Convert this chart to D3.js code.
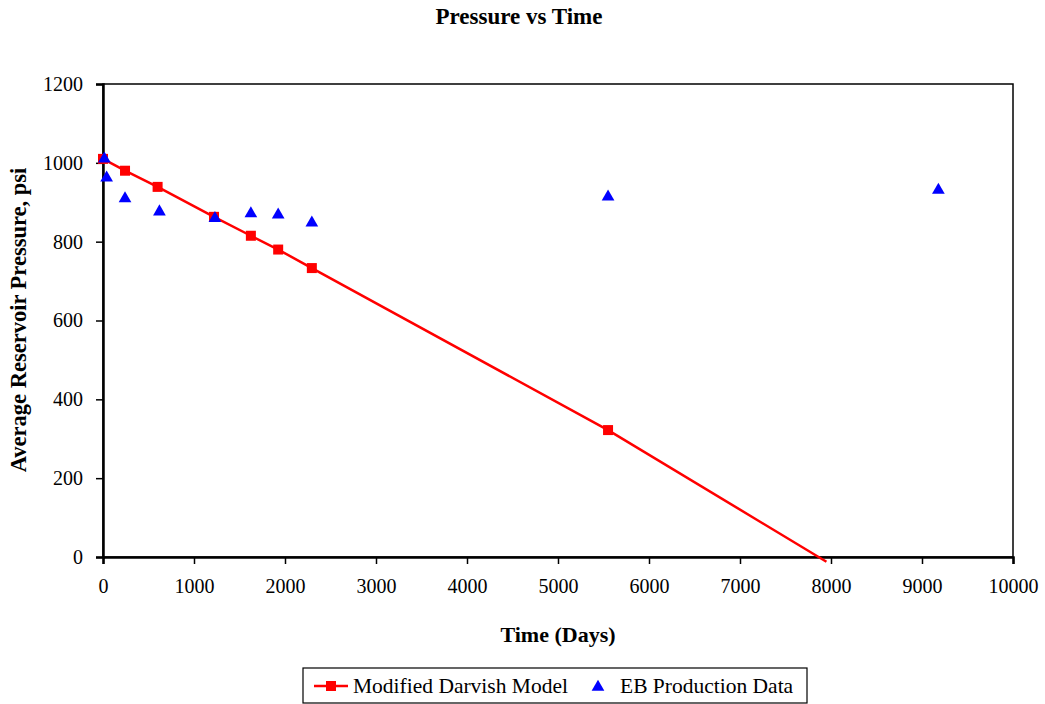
<!DOCTYPE html>
<html>
<head>
<meta charset="utf-8">
<script src="https://cdn.jsdelivr.net/npm/d3@7"></script>
<style>
  html, body { margin: 0; padding: 0; background: #fff; }
  svg { display: block; }
</style>
</head>
<body>
<svg id="chart" width="1045" height="704"></svg>
<script>
// Modified Darvish model: time (days) and average reservoir pressure (psi)
const modelDays     = [0, 242, 600, 1220, 1625, 1925, 2295, 5550, 7950];
const modelPressure = [1010, 980, 939, 863, 815, 780, 733, 322, -12];
// the last model point is the end of the line only, drawn without a marker
const modelMarkerCount = 8;

// EB production data
const ebDays     = [15, 40, 242, 620, 1230, 1625, 1925, 2295, 5550, 9180];
const ebPressure = [1010, 962, 909, 876, 859, 871, 868, 848, 914, 931];

const xTicks = [0, 1000, 2000, 3000, 4000, 5000, 6000, 7000, 8000, 9000, 10000];
const yTicks = [0, 200, 400, 600, 800, 1000, 1200];

const titleText = "Pressure vs Time";
const xTitle = "Time (Days)";
const yTitle = "Average Reservoir Pressure, psi";
const seriesNames = ["Modified Darvish Model", "EB Production Data"];

const FONT = "'Liberation Serif', 'Times New Roman', 'DejaVu Serif', serif";

const svg = d3.select("#chart");
const plot = { left: 103, right: 1013, top: 84, bottom: 557 };

const x = d3.scaleLinear().domain([0, 10000]).range([plot.left, plot.right]);
const y = d3.scaleLinear().domain([0, 1200]).range([plot.bottom, plot.top]);

function label(sel, size, bold) {
  return sel.attr("font-family", FONT).style("font-family", FONT)
    .style("font-size", size + "px")
    .style("font-weight", bold ? "bold" : "normal")
    .attr("fill", "#000");
}

// title
label(svg.append("text")
  .attr("x", 519).attr("y", 24)
  .attr("text-anchor", "middle"), 23, true)
  .text(titleText);

// plot frame
svg.append("rect")
  .attr("x", plot.left).attr("y", plot.top)
  .attr("width", plot.right - plot.left).attr("height", plot.bottom - plot.top)
  .attr("fill", "none").attr("stroke", "#000").attr("stroke-width", 1.5);

// axes
const xAxis = d3.axisBottom(x).tickValues(xTicks).tickSize(7).tickPadding(15).tickFormat(d3.format("d"));
const yAxis = d3.axisLeft(y).tickValues(yTicks).tickSize(7).tickPadding(13).tickFormat(d3.format("d"));

const gx = svg.append("g").attr("transform", `translate(0,${plot.bottom})`).call(xAxis);
const gy = svg.append("g").attr("transform", `translate(${plot.left},0)`).call(yAxis);
[gx, gy].forEach(g => {
  g.attr("font-family", FONT);
  g.select(".domain").attr("stroke", "#000").attr("stroke-width", 2.5);
  g.selectAll(".tick line").attr("stroke", "#000").attr("stroke-width", 1.5);
  label(g.selectAll(".tick text"), 20, false);
});

// axis titles
label(svg.append("text")
  .attr("x", 558).attr("y", 642)
  .attr("text-anchor", "middle"), 22, true)
  .text(xTitle);

label(svg.append("text")
  .attr("transform", `translate(26,320) rotate(-90)`)
  .attr("text-anchor", "middle"), 22.5, true)
  .text(yTitle);

// model line
const modelData = modelDays.map((d, i) => ({ t: d, p: modelPressure[i] }));
const line = d3.line().x(d => x(d.t)).y(d => y(d.p));
svg.append("path")
  .datum(modelData)
  .attr("d", line)
  .attr("fill", "none").attr("stroke", "#ff0000").attr("stroke-width", 2.5);

// model markers
svg.append("g").selectAll("rect")
  .data(modelData.slice(0, modelMarkerCount))
  .join("rect")
  .attr("x", d => x(d.t) - 5).attr("y", d => y(d.p) - 5)
  .attr("width", 10).attr("height", 10)
  .attr("fill", "#ff0000");

// EB markers
const tri = d3.symbol().type(d3.symbolTriangle).size(70);
const ebData = ebDays.map((d, i) => ({ t: d, p: ebPressure[i] }));
svg.append("g").selectAll("path")
  .data(ebData)
  .join("path")
  .attr("transform", d => `translate(${x(d.t)},${y(d.p)})`)
  .attr("d", tri)
  .attr("fill", "#0000ff");

// legend
const lg = svg.append("g");
lg.append("rect")
  .attr("x", 303).attr("y", 668).attr("width", 504).attr("height", 35)
  .attr("fill", "#fff").attr("stroke", "#000").attr("stroke-width", 1.2);
lg.append("line")
  .attr("x1", 314).attr("x2", 348).attr("y1", 686).attr("y2", 686)
  .attr("stroke", "#ff0000").attr("stroke-width", 2.5);
lg.append("rect")
  .attr("x", 326).attr("y", 681).attr("width", 10).attr("height", 10)
  .attr("fill", "#ff0000");
label(lg.append("text")
  .attr("x", 353).attr("y", 693), 21.5, false)
  .text(seriesNames[0]);
lg.append("path")
  .attr("transform", "translate(598,687)")
  .attr("d", tri)
  .attr("fill", "#0000ff");
label(lg.append("text")
  .attr("x", 620).attr("y", 693), 21.5, false)
  .text(seriesNames[1]);
</script>
</body>
</html>
